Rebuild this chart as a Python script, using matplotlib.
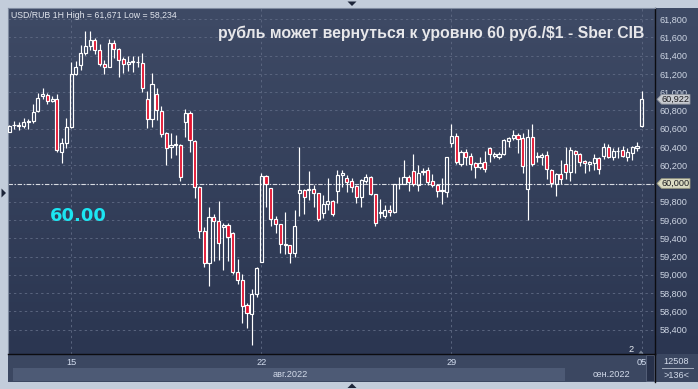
import matplotlib
matplotlib.use('Agg')
import matplotlib.pyplot as plt
import numpy as np
from matplotlib.patches import Rectangle, Polygon
import matplotlib.transforms as mtransforms

W, H = 698, 389

# ---------------- data (USD/RUB, 1H candles) ----------------
opens = [60567, 60638, 60636, 60630, 60675, 60688, 60794, 60962, 60966, 60900,
         60922, 60348, 60440, 60616, 61203, 61295, 61426, 61509, 61572, 61462,
         61306, 61279, 61536, 61473, 61364, 61306, 61330, 61326, 61317, 60926,
         60707, 60977, 60794, 60553, 60400, 60420, 60422, 60677, 60772, 60466,
         59962, 59480, 59129, 59633, 59589, 59520, 59546, 59458, 59028, 58943,
         58669, 58567, 58790, 59144, 60086, 59948, 59608, 59557, 59334, 59323,
         59236, 59893, 59929, 59929, 59937, 59893, 59674, 59772, 59808, 59921,
         60090, 60057, 60028, 59973, 59849, 60031, 60075, 59885, 59680, 59644,
         59710, 59685, 59993, 59995, 60068, 60137, 59987, 60129, 60148, 60024,
         59984, 59918, 59907, 60447, 60520, 60210, 60345, 60301, 60221, 60184,
         60239, 60386, 60305, 60294, 60323, 60469, 60495, 60528, 60495, 59937,
         60506, 60287, 60287, 60312, 60148, 59995, 60101, 60214, 60129, 60356,
         60323, 60247, 60214, 60228, 60276, 60301, 60397, 60287, 60353, 60367,
         60287, 60331, 60386, 60633]
highs = [60640, 60685, 60677, 60714, 60707, 60871, 60988, 61049, 60988, 60955,
         60980, 60495, 60714, 61334, 61342, 61517, 61670, 61671, 61597, 61525,
         61353, 61583, 61572, 61488, 61389, 61400, 61400, 61400, 61426, 61013,
         61207, 61043, 60852, 60567, 60553, 60531, 60430, 60816, 60798, 60477,
         59970, 59527, 59746, 59666, 59808, 59571, 59571, 59470, 59173, 59009,
         58691, 58845, 59089, 60115, 60090, 59955, 59644, 59560, 59688, 59330,
         59710, 60403, 59935, 60140, 59984, 59900, 59874, 60060, 59815, 60148,
         60148, 60093, 60057, 59980, 60045, 60104, 60082, 59890, 59830, 59765,
         59765, 60000, 60075, 60257, 60093, 60323, 60203, 60173, 60178, 60104,
         59990, 60057, 60290, 60652, 60557, 60367, 60375, 60338, 60239, 60294,
         60359, 60397, 60348, 60340, 60485, 60513, 60586, 60557, 60550, 60594,
         60652, 60348, 60338, 60359, 60155, 60118, 60257, 60397, 60397, 60367,
         60330, 60257, 60245, 60323, 60285, 60447, 60433, 60386, 60403, 60411,
         60386, 60411, 60458, 61017]
lows = [60560, 60597, 60583, 60605, 60597, 60660, 60780, 60926, 60874, 60889,
        60348, 60221, 60392, 60611, 61188, 61247, 61408, 61459, 61415, 61290,
        61196, 61273, 61371, 61170, 61207, 61236, 61225, 61279, 61006, 60605,
        60622, 60696, 60509, 60203, 60276, 60312, 60031, 60509, 60348, 59841,
        59403, 59085, 58877, 59155, 59162, 59053, 59155, 59009, 58899, 58475,
        58417, 58234, 58760, 59144, 59746, 59535, 59461, 59242, 59228, 59129,
        59192, 59644, 59666, 59819, 59743, 59589, 59619, 59710, 59644, 59787,
        59959, 59910, 59910, 59787, 59746, 60009, 59874, 59535, 59619, 59619,
        59644, 59680, 59940, 59990, 59921, 59973, 59921, 60093, 59984, 59959,
        59849, 59772, 59849, 60403, 60214, 60192, 60203, 60148, 60057, 60156,
        60129, 60239, 60276, 60265, 60315, 60403, 60477, 60338, 60118, 59600,
        60192, 60239, 60203, 60046, 59959, 59863, 59995, 60046, 60031, 60118,
        60192, 60112, 60140, 60148, 60104, 60265, 60276, 60257, 60276, 60287,
        60250, 60257, 60359, 60622]
closes = [60633, 60644, 60631, 60677, 60680, 60786, 60933, 60984, 60904, 60926,
          60364, 60440, 60616, 61196, 61273, 61426, 61506, 61572, 61462, 61306,
          61273, 61536, 61473, 61350, 61306, 61331, 61338, 61336, 61043, 60703,
          61087, 60805, 60546, 60394, 60420, 60430, 60075, 60772, 60477, 59962,
          59480, 59129, 59633, 59589, 59348, 59546, 59417, 59034, 58943, 58662,
          58585, 58790, 59075, 60086, 59991, 59608, 59553, 59334, 59323, 59236,
          59535, 59929, 59849, 59940, 59893, 59608, 59772, 59808, 59663, 60093,
          60118, 60020, 59965, 59849, 60039, 60068, 59885, 59571, 59690, 59710,
          59688, 59995, 59997, 60068, 60020, 59995, 60118, 60140, 60020, 59984,
          59921, 59924, 60287, 60520, 60239, 60345, 60294, 60210, 60184, 60221,
          60156, 60323, 60320, 60323, 60477, 60495, 60531, 60484, 60192, 60506,
          60214, 60301, 60312, 60156, 60002, 60101, 60046, 60129, 60367, 60323,
          60239, 60221, 60236, 60283, 60156, 60403, 60287, 60356, 60359, 60301,
          60345, 60397, 60411, 60922]

date_tick_pos = [13, 53, 93, 133]
date_tick_labels = ['15', '22', '29', '05']
month_labels = ['авг.2022', 'сен.2022']
price_ticks = list(range(58400, 61801, 200))
level_line = 60000
last_price = 60922
info_text = 'USD/RUB 1H High = 61,671 Low = 58,234'
title_text = 'рубль может вернуться к уровню 60 руб./$1 - Sber CIB'
big_label = '60.00'
footer_count = '12508'
footer_bars = '>136<'

# ---------------- styling ----------------
RED = '#e3122f'
FRAME = '#c3cddb'
GRID = '#5a657f'
TXT = '#cdd5e3'


def fx(px):
    return px / W


def fy(py):
    return 1 - py / H


fig = plt.figure(figsize=(W / 100, H / 100), dpi=100, facecolor=FRAME)

# background gradient for plot + price panel
bg = fig.add_axes([fx(8), fy(354), (698 - 8) / W, (354 - 8) / H], zorder=0)
grad = np.linspace(0, 1, 256).reshape(-1, 1)
top_c = np.array([62, 74, 101]) / 255
bot_c = np.array([43, 54, 81]) / 255
img = top_c[None, None, :] * (1 - grad[:, :, None]) + bot_c[None, None, :] * grad[:, :, None]
bg.imshow(img, aspect='auto', extent=[0, 1, 0, 1], origin='upper')
bg.set_xlim(0, 1)
bg.set_ylim(0, 1)
bg.axis('off')

# bottom strip
fig.patches.append(Rectangle((fx(8), fy(381.5)), (698 - 8) / W, (381.5 - 354) / H,
                             transform=fig.transFigure, facecolor='#3b4761', edgecolor='none', zorder=0))
fig.patches.append(Rectangle((fx(12.5), fy(381)), (565 - 12.5) / W, (381 - 368) / H,
                             transform=fig.transFigure, facecolor='#4d5a75', edgecolor='none', zorder=0))
fig.patches.append(Rectangle((fx(646), fy(381)), (654 - 646) / W, (381 - 355) / H,
                             transform=fig.transFigure, facecolor='#27314a', edgecolor='#5a667e',
                             linewidth=0.6, zorder=0))
fig.lines.append(plt.Line2D([fx(655), fx(655)], [fy(354), fy(381.5)], transform=fig.transFigure,
                            color='#0c0c10', lw=1.0))
fig.lines.append(plt.Line2D([fx(662), fx(693)], [fy(368), fy(368)], transform=fig.transFigure,
                            color='#a4adbd', lw=0.7))

# main axes
ax = fig.add_axes([fx(8), fy(354), (655 - 8) / W, (354 - 8) / H], zorder=2)
ax.set_facecolor('none')

x = np.arange(len(opens))
o = np.array(opens, float)
hi = np.array(highs, float)
lo = np.array(lows, float)
c = np.array(closes, float)
body_lo = np.minimum(o, c)
body_hi = np.maximum(o, c)
up = c >= o

# grid
for p in price_ticks:
    ax.axhline(p, color=GRID, lw=0.7, linestyle=(0, (2.4, 3.2)), zorder=1)
for p in date_tick_pos:
    ax.axvline(p, color=GRID, lw=0.7, linestyle=(0, (2.4, 3.2)), zorder=1)

ax.axhline(level_line, color='#d8dbe2', lw=0.8, linestyle=(0, (4, 1.5, 1.2, 1.5)), zorder=2)

# candles
ax.vlines(x, body_hi, hi, color='white', lw=0.85, zorder=3)
ax.vlines(x, lo, body_lo, color='white', lw=0.85, zorder=3)
face = [(0, 0, 0, 0) if u else RED for u in up]
ax.bar(x, np.maximum(body_hi - body_lo, 6), bottom=body_lo, width=0.66,
       color=face, edgecolor='white', linewidth=0.85, zorder=4)

ax.set_xlim(-0.273, 135.8)
ax.set_ylim(58132.6, 61922.4)

# axes styling
ax.yaxis.tick_right()
ax.set_yticks(price_ticks)
ax.set_yticklabels(['' if p == level_line else f'{p:,}' for p in price_ticks])
ax.tick_params(axis='y', length=0, pad=3, labelsize=6.6, labelcolor=TXT)
for lab in ax.get_yticklabels():
    lab.set_fontfamily('Liberation Sans')
ax.set_xticks(date_tick_pos)
ax.set_xticklabels(date_tick_labels)
ax.tick_params(axis='x', length=0, pad=3, labelsize=6.6, labelcolor='#d3ddef')
for lab in ax.get_xticklabels():
    lab.set_fontfamily('Liberation Sans')

for s in ['top', 'left']:
    ax.spines[s].set_color('#7f8ba0')
    ax.spines[s].set_linewidth(0.8)
for s in ['right', 'bottom']:
    ax.spines[s].set_color('#0c0c10')
    ax.spines[s].set_linewidth(1.0)

# price markers on the right axis
trans = mtransforms.blended_transform_factory(ax.transAxes, ax.transData)
axw = 655 - 8


def marker(val, face, edge):
    x0 = (657 - 8) / axw
    x1 = (661.5 - 8) / axw
    x2 = (690 - 8) / axw
    hh = 4.8 * 10.953
    pts = [(x0, val), (x1, val + hh), (x2, val + hh), (x2, val - hh), (x1, val - hh)]
    poly = Polygon(pts, closed=True, transform=trans, facecolor=face, edgecolor=edge,
                   linewidth=0.6, clip_on=False, zorder=10)
    ax.add_patch(poly)
    ax.text((661 - 8) / axw, val, f'{val:,}', transform=trans, ha='left', va='center',
            fontsize=6.6, color='#1b1b1f', family='Liberation Sans', clip_on=False, zorder=11)


marker(last_price, '#c8cbd1', '#8c919b')
marker(level_line, '#dcdcc3', '#9b9b82')

# texts
fig.text(fx(11), fy(15), info_text, ha='left', va='center', fontsize=6.3,
         color='#e2e6ee', family='Liberation Sans')
fig.text(fx(644), fy(33), title_text, ha='right', va='center', fontsize=11.4,
         color='#e7e7ea', family='Liberation Sans', weight='bold')
fig.text(fx(50), fy(216), big_label, ha='left', va='center', fontsize=13,
         color='#1ce6f2', family='DejaVu Sans', weight='bold')
fig.text(fx(290), fy(374.5), month_labels[0], ha='center', va='center', fontsize=6.6,
         color='#d3dbea', family='Liberation Sans')
fig.text(fx(611), fy(374.5), month_labels[1], ha='center', va='center', fontsize=6.6,
         color='#d3dbea', family='Liberation Sans')
fig.text(fx(676.5), fy(362), footer_count, ha='center', va='center', fontsize=6.6,
         color='#d3dbea', family='Liberation Sans')
fig.text(fx(676.5), fy(375.5), footer_bars, ha='center', va='center', fontsize=6.6,
         color='#d3dbea', family='Liberation Sans')
fig.text(fx(631.5), fy(349.5), '2', ha='center', va='center', fontsize=6.6,
         color='#e8ecf2', family='Liberation Sans')

# small triangles on the frame
tri_col = '#1d2539'
fig.patches.append(Polygon([(fx(347.5), fy(1.5)), (fx(356.5), fy(1.5)), (fx(352), fy(6))],
                           closed=True, transform=fig.transFigure, facecolor=tri_col, edgecolor='none'))
fig.patches.append(Polygon([(fx(347.5), fy(388)), (fx(356.5), fy(388)), (fx(352), fy(383.5))],
                           closed=True, transform=fig.transFigure, facecolor=tri_col, edgecolor='none'))
fig.patches.append(Polygon([(fx(1.5), fy(188.5)), (fx(1.5), fy(197.5)), (fx(6), fy(193))],
                           closed=True, transform=fig.transFigure, facecolor=tri_col, edgecolor='none'))
fig.patches.append(Polygon([(fx(638.5), fy(353.5)), (fx(643.5), fy(353.5)), (fx(641), fy(350.5))],
                           closed=True, transform=fig.transFigure, facecolor='#7c8799', edgecolor='none',
                           zorder=5))

fig.savefig('out.png', dpi=100, facecolor=FRAME)
